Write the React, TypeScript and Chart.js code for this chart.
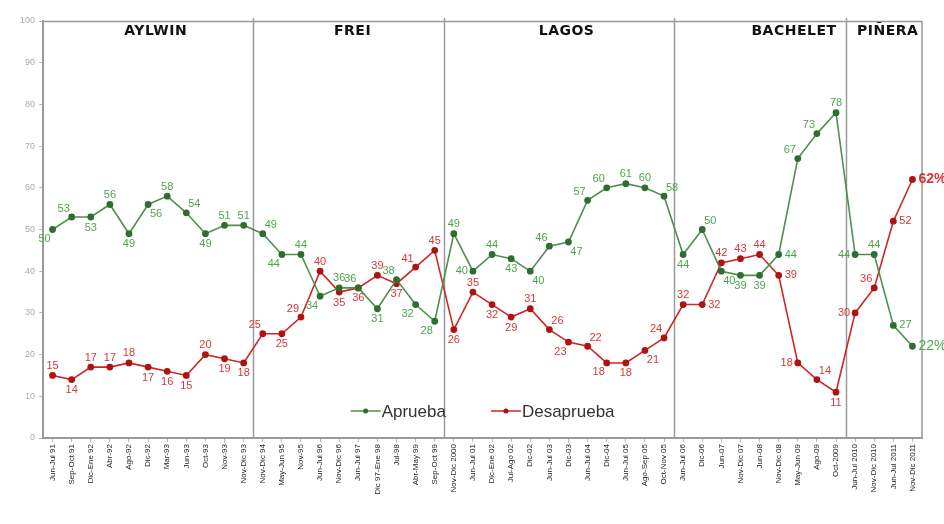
import React, { useEffect, useRef } from 'react';
import { Chart, registerables } from 'chart.js';

Chart.register(...registerables);

const surveyLabels = [
  'Jun-Jul 91', 'Sep-Oct 91', 'Dic-Ene 92', 'Abr-92', 'Ago-92', 'Dic-92', 'Mar-93', 'Jun-93', 'Oct-93', 'Nov-93', 'Nov-Dic 93',
  'Nov-Dic 94', 'May-Jun 95', 'Nov-95', 'Jun-Jul 96', 'Nov-Dic 96', 'Jun-Jul 97', 'Dic 97-Ene 98', 'Jul-98', 'Abr-May 99', 'Sep-Oct 99',
  'Nov-Dic 2000', 'Jun-Jul 01', 'Dic-Ene 02', 'Jul-Ago 02', 'Dic-02', 'Jun-Jul 03', 'Dic-03', 'Jun-Jul 04', 'Dic-04', 'Jun-Jul 05', 'Ago-Sep 05', 'Oct-Nov 05',
  'Jun-Jul 06', 'Dic-06', 'Jun-07', 'Nov-Dic 07', 'Jun-08', 'Nov-Dic 08', 'May-Jun 09', 'Ago-09', 'Oct-2009',
  'Jun-Jul 2010', 'Nov-Dic 2010', 'Jun-Jul 2011', 'Nov-Dic 2011',
];

const aprueba = [
  50, 53, 53, 56, 49, 56, 58, 54, 49, 51, 51,
  49, 44, 44, 34, 36, 36, 31, 38, 32, 28,
  49, 40, 44, 43, 40, 46, 47, 57, 60, 61, 60, 58,
  44, 50, 40, 39, 39, 44, 67, 73, 78,
  44, 44, 27, 22,
];

const desaprueba = [
  15, 14, 17, 17, 18, 17, 16, 15, 20, 19, 18,
  25, 25, 29, 40, 35, 36, 39, 37, 41, 45,
  26, 35, 32, 29, 31, 26, 23, 22, 18, 18, 21, 24,
  32, 32, 42, 43, 44, 39, 18, 14, 11,
  30, 36, 52, 62,
];

const presidents = ['AYLWIN', 'FREI', 'LAGOS', 'BACHELET', 'PIÑERA'];
// index of the first survey of each term
const termStarts = [0, 11, 21, 33, 42];

// label placement (style): where each value label sits relative to its point
const aprPos = [
  'bl', 'al', 'b', 'a', 'b', 'br', 'a', 'ar', 'b', 'a', 'a',
  'ar', 'bl', 'a', 'bl', 'a', 'al', 'b', 'al', 'bl', 'bl',
  'a', 'l', 'a', 'b', 'br', 'al', 'br', 'al', 'al', 'a', 'a', 'ar',
  'b', 'ar', 'br', 'b', 'b', 'r', 'al', 'al', 'a',
  'l', 'a', 'r', 'r',
];
const desPos = [
  'a', 'b', 'a', 'a', 'a', 'b', 'b', 'b', 'a', 'b', 'b',
  'al', 'b', 'al', 'a', 'b', 'b', 'a', 'b', 'al', 'a',
  'b', 'a', 'b', 'b', 'a', 'ar', 'bl', 'ar', 'bl', 'b', 'br', 'al',
  'a', 'r', 'a', 'a', 'a', 'r', 'l', 'ar', 'b',
  'l', 'al', 'r', 'r',
];
// name anchor (fractional category index) and alignment
const nameAnchors = [5.4, 15.7, 26.9, 38.8, 42.1];
const nameAlign: CanvasTextAlign[] = ['center', 'center', 'center', 'center', 'left'];

const GREEN_LINE = '#4f8f4f';
const GREEN_PT = '#2f6e2f';
const GREEN_TXT = '#4ea54e';
const RED_LINE = '#cc2626';
const RED_PT = '#b01212';
const RED_TXT = '#d63838';
const FRAME = '#9a9a9a';

const overlayPlugin = {
  id: 'overlay',
  beforeDatasetsDraw(chart: any) {
    const { ctx, chartArea, scales } = chart;
    const x = scales.x;
    ctx.save();
    ctx.strokeStyle = FRAME;
    ctx.lineWidth = 1.5;
    for (let k = 1; k < termStarts.length; k++) {
      const i = termStarts[k];
      const px = Math.round((x.getPixelForValue(i - 1) + x.getPixelForValue(i)) / 2) + 0.5;
      ctx.beginPath();
      ctx.moveTo(px, chartArea.top - 3);
      ctx.lineTo(px, chartArea.bottom);
      ctx.stroke();
    }
    ctx.beginPath();
    ctx.moveTo(chartArea.left, chartArea.top + 0.5);
    ctx.lineTo(chartArea.right, chartArea.top + 0.5);
    ctx.lineTo(chartArea.right, chartArea.bottom);
    ctx.stroke();
    ctx.restore();
  },
  afterDatasetsDraw(chart: any) {
    const { ctx, chartArea, scales } = chart;
    const x = scales.x;
    ctx.save();
    ctx.fillStyle = '#111';
    ctx.font = "bold 14px 'DejaVu Sans'";
    (ctx as any).letterSpacing = '0.5px';
    ctx.textBaseline = 'alphabetic';
    presidents.forEach((name, k) => {
      const a = nameAnchors[k];
      const i0 = Math.floor(a);
      const f = a - i0;
      const px = x.getPixelForValue(i0) + f * (x.getPixelForValue(i0 + 1) - x.getPixelForValue(i0));
      ctx.textAlign = nameAlign[k];
      ctx.fillText(name, px, chartArea.top + 14);
    });
    (ctx as any).letterSpacing = '0px';

    const drawLabels = (dsIndex: number, values: number[], pos: string[], color: string) => {
      const meta = chart.getDatasetMeta(dsIndex);
      values.forEach((v, i) => {
        const el = meta.data[i];
        const last = i === values.length - 1;
        let text = String(v);
        if (last) {
          text = v + '%';
          ctx.font = dsIndex === 1 ? "bold 14px 'Liberation Sans'" : "14px 'Liberation Sans'";
        } else {
          ctx.font = "11px 'Liberation Sans'";
        }
        ctx.fillStyle = color;
        const p = pos[i];
        let tx = el.x;
        let ty = el.y;
        if (p === 'a') { ctx.textAlign = 'center'; ctx.textBaseline = 'bottom'; ty -= 4; }
        else if (p === 'b') { ctx.textAlign = 'center'; ctx.textBaseline = 'top'; ty += 5; }
        else if (p === 'al') { ctx.textAlign = 'center'; ctx.textBaseline = 'bottom'; tx -= 8; ty -= 3; }
        else if (p === 'ar') { ctx.textAlign = 'center'; ctx.textBaseline = 'bottom'; tx += 8; ty -= 3; }
        else if (p === 'bl') { ctx.textAlign = 'center'; ctx.textBaseline = 'top'; tx -= 8; ty += 4; }
        else if (p === 'br') { ctx.textAlign = 'center'; ctx.textBaseline = 'top'; tx += 8; ty += 4; }
        else if (p === 'l') { ctx.textAlign = 'right'; ctx.textBaseline = 'middle'; tx -= 5; }
        else { ctx.textAlign = 'left'; ctx.textBaseline = 'middle'; tx += 6; }
        ctx.fillText(text, tx, ty);
      });
    };
    drawLabels(0, aprueba, aprPos, GREEN_TXT);
    drawLabels(1, desaprueba, desPos, RED_TXT);

    const ly = chartArea.bottom - 27;
    const items = [
      { text: 'Aprueba', line: GREEN_LINE, pt: GREEN_PT },
      { text: 'Desaprueba', line: RED_LINE, pt: RED_PT },
    ];
    ctx.font = "17px 'Liberation Sans'";
    ctx.textAlign = 'left';
    ctx.textBaseline = 'middle';
    let lx = x.getPixelForValue(15.6);
    items.forEach((it) => {
      ctx.strokeStyle = it.line;
      ctx.lineWidth = 1.5;
      ctx.beginPath();
      ctx.moveTo(lx, ly);
      ctx.lineTo(lx + 30, ly);
      ctx.stroke();
      ctx.fillStyle = it.pt;
      ctx.beginPath();
      ctx.arc(lx + 15, ly, 2.5, 0, Math.PI * 2);
      ctx.fill();
      ctx.fillStyle = '#333';
      ctx.fillText(it.text, lx + 31, ly + 1);
      lx += 31 + ctx.measureText(it.text).width + 45;
    });
    ctx.restore();
  },
};

export default function App() {
  const canvasRef = useRef<HTMLCanvasElement | null>(null);

  useEffect(() => {
    document.body.style.margin = '0';
    const canvas = canvasRef.current;
    if (!canvas) return;
    const chart = new Chart(canvas, {
      type: 'line',
      data: {
        labels: surveyLabels,
        datasets: [
          {
            label: 'Aprueba',
            data: aprueba,
            borderColor: GREEN_LINE,
            backgroundColor: GREEN_PT,
            pointBackgroundColor: GREEN_PT,
            pointBorderColor: GREEN_PT,
            pointRadius: 2.6,
            borderWidth: 1.6,
            tension: 0,
          },
          {
            label: 'Desaprueba',
            data: desaprueba,
            borderColor: RED_LINE,
            backgroundColor: RED_PT,
            pointBackgroundColor: RED_PT,
            pointBorderColor: RED_PT,
            pointRadius: 2.6,
            borderWidth: 1.6,
            tension: 0,
          },
        ],
      },
      options: {
        responsive: false,
        animation: false,
        devicePixelRatio: 1,
        layout: { padding: { left: 0, top: 21, right: 22, bottom: 0 } },
        plugins: {
          legend: { display: false },
          tooltip: { enabled: false },
          title: { display: false },
        },
        scales: {
          x: {
            type: 'category',
            offset: true,
            grid: { drawOnChartArea: false, drawTicks: true, tickLength: 4, color: '#bbb' },
            border: { display: true, color: FRAME, width: 2 },
            ticks: {
              autoSkip: false,
              maxRotation: 90,
              minRotation: 90,
              padding: 2,
              color: '#222',
              font: { family: "'Liberation Sans'", size: 8 },
            },
            afterFit: (s: any) => { s.height = 86; },
          },
          y: {
            min: 0,
            max: 100,
            grid: { drawOnChartArea: false, drawTicks: true, tickLength: 4, color: '#bbb' },
            border: { display: true, color: FRAME, width: 2 },
            ticks: {
              stepSize: 10,
              padding: 4,
              color: '#aaa',
              font: { family: "'Liberation Sans'", size: 9 },
            },
            afterFit: (s: any) => { s.width = 43; },
          },
        },
      },
      plugins: [overlayPlugin],
    });
    return () => chart.destroy();
  }, []);

  return (
    <div style={{ width: 944, height: 524, position: 'relative', background: '#fff' }}>
      <canvas ref={canvasRef} width={944} height={524} style={{ display: 'block' }} />
    </div>
  );
}
